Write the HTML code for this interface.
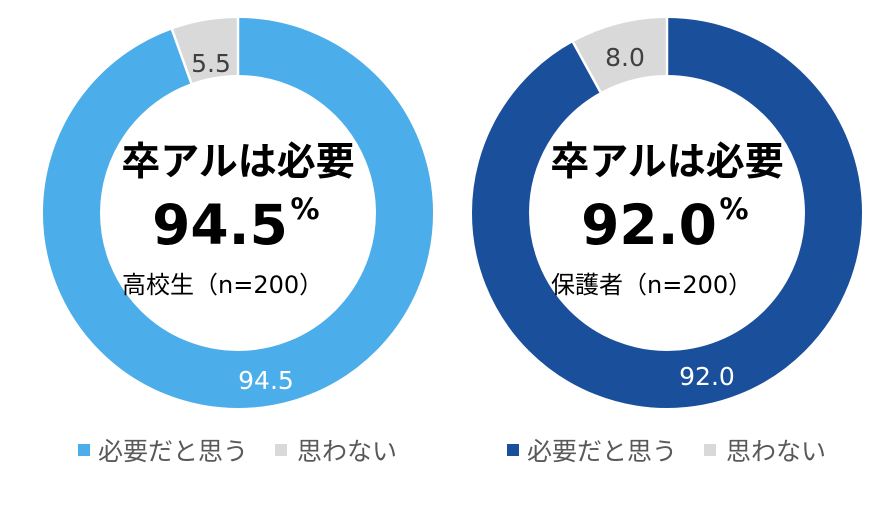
<!DOCTYPE html>
<html><head><meta charset="utf-8"><style>
html,body{margin:0;padding:0;background:#fff;}
svg text{font-family:"DejaVu Sans","Noto Sans CJK JP",sans-serif;}
svg text.j{font-family:"Noto Sans CJK JP",sans-serif;}
</style></head><body>
<svg width="892" height="516" viewBox="0 0 892 516" xmlns="http://www.w3.org/2000/svg">
<!-- left donut -->
<circle cx="238" cy="213" r="166.5" fill="none" stroke="#d9d9d9" stroke-width="57"/>
<circle cx="238" cy="213" r="166.5" fill="none" stroke="#4baeea" stroke-width="57" stroke-dasharray="988.6 2000" transform="rotate(-90 238 213)"/>
<line x1="238" y1="16" x2="238" y2="76" stroke="#fff" stroke-width="2.5"/>
<line x1="191.3" y1="83.2" x2="171.3" y2="27.6" stroke="#fff" stroke-width="2.5"/>
<text x="211" y="72" font-size="25" fill="#404040" text-anchor="middle">5.5</text>
<text x="266" y="389" font-size="25" fill="#fff" text-anchor="middle">94.5</text>
<text class="j" x="238" y="175" font-size="39" font-weight="bold" text-anchor="middle" fill="#000">卒アルは必要</text>
<text x="220" y="244" font-size="55" font-weight="bold" text-anchor="middle" fill="#000">94.5</text>
<text x="305" y="219" font-size="29" font-weight="bold" text-anchor="middle" fill="#000">%</text>
<text x="122" y="293" font-size="24" fill="#000">高校生（n=200）</text>
<!-- right donut -->
<circle cx="667" cy="213" r="166.5" fill="none" stroke="#d9d9d9" stroke-width="57"/>
<circle cx="667" cy="213" r="166.5" fill="none" stroke="#1a4f9c" stroke-width="57" stroke-dasharray="962.4 2000" transform="rotate(-90 667 213)"/>
<line x1="667" y1="16" x2="667" y2="76" stroke="#fff" stroke-width="2.5"/>
<line x1="600.5" y1="92.1" x2="572" y2="40.3" stroke="#fff" stroke-width="2.5"/>
<text x="625" y="66" font-size="25" fill="#404040" text-anchor="middle">8.0</text>
<text x="707" y="385" font-size="25" fill="#fff" text-anchor="middle">92.0</text>
<text class="j" x="667" y="175" font-size="39" font-weight="bold" text-anchor="middle" fill="#000">卒アルは必要</text>
<text x="649" y="244" font-size="55" font-weight="bold" text-anchor="middle" fill="#000">92.0</text>
<text x="734" y="219" font-size="29" font-weight="bold" text-anchor="middle" fill="#000">%</text>
<text x="551" y="293" font-size="24" fill="#000">保護者（n=200）</text>
<!-- legends -->
<rect x="78" y="444" width="12" height="12" fill="#4baeea"/>
<text class="j" x="98" y="460" font-size="25" fill="#595959">必要だと思う</text>
<rect x="275" y="444" width="12" height="12" fill="#d9d9d9"/>
<text class="j" x="297" y="460" font-size="25" fill="#595959">思わない</text>
<rect x="507" y="444" width="12" height="12" fill="#1a4f9c"/>
<text class="j" x="527" y="460" font-size="25" fill="#595959">必要だと思う</text>
<rect x="704" y="444" width="12" height="12" fill="#d9d9d9"/>
<text class="j" x="726" y="460" font-size="25" fill="#595959">思わない</text>
</svg>
</body></html>
